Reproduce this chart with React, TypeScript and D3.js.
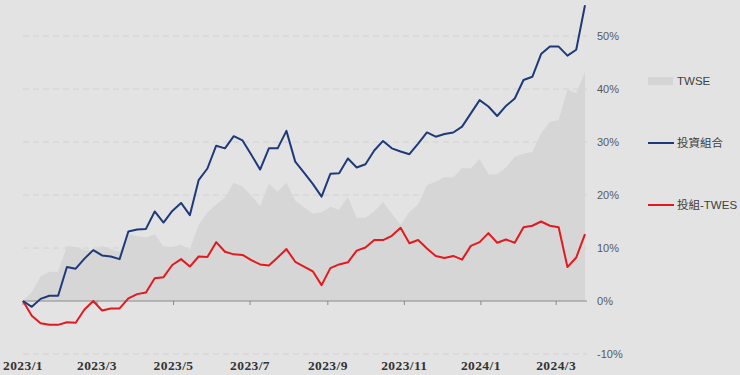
import * as d3 from "d3";

// weekly points, first one is the base week (0%)
const startDate = new Date(2023, 0, 1);
const endDate = new Date(2024, 2, 24);

// 投資組合 cumulative return (%)
const portfolio = [
  0, -1.1, 0.4, 1.0, 1.0, 6.4, 6.1, 8.0, 9.6, 8.6,
  8.4, 7.9, 13.1, 13.5, 13.6, 16.9, 14.8, 17.0, 18.5, 16.2,
  22.8, 25.0, 29.3, 28.8, 31.1, 30.3, 27.6, 24.8, 28.8, 28.8,
  32.1, 26.3, 24.2, 22.1, 19.7, 24.0, 24.1, 26.9, 25.2, 25.8,
  28.4, 30.2, 28.8, 28.2, 27.7, 29.7, 31.8, 31.0, 31.5, 31.8,
  32.9, 35.4, 37.9, 36.7, 34.9, 36.8, 38.2, 41.7, 42.3, 46.6,
  48.0, 48.0, 46.3, 47.4, 55.8,
];

// 投組-TWES excess return (%)
const excess = [
  0, -2.8, -4.2, -4.5, -4.5, -4.0, -4.1, -1.6, 0, -1.8,
  -1.4, -1.4, 0.5, 1.3, 1.6, 4.3, 4.5, 6.8, 7.9, 6.5,
  8.4, 8.3, 11.1, 9.3, 8.8, 8.7, 7.7, 6.9, 6.7, 8.2,
  9.8, 7.4, 6.5, 5.6, 3.0, 6.2, 6.9, 7.3, 9.5, 10.1,
  11.5, 11.5, 12.3, 13.8, 10.9, 11.5, 9.9, 8.5, 8.1, 8.5,
  7.8, 10.4, 11.1, 12.8, 11.0, 11.6, 11.0, 13.9, 14.2, 15.0,
  14.2, 13.9, 6.4, 8.2, 12.6,
];

// TWSE cumulative return (%)
const twse = [
  0, 1.7, 4.6, 5.5, 5.5, 10.4, 10.2, 9.6, 9.6, 10.4,
  9.8, 9.3, 12.6, 12.2, 12.0, 12.6, 10.3, 10.2, 10.6, 9.7,
  14.4, 16.7, 18.2, 19.5, 22.3, 21.6, 19.9, 17.9, 22.1, 20.6,
  22.3, 18.9, 17.7, 16.5, 16.7, 17.8, 17.2, 19.6, 15.7, 15.7,
  16.9, 18.7, 16.5, 14.4, 16.8, 18.2, 21.9, 22.5, 23.4, 23.3,
  25.1, 25.0, 26.8, 23.9, 23.9, 25.2, 27.2, 27.8, 28.1, 31.6,
  33.8, 34.1, 39.9, 39.2, 43.2,
];

const yTicks = [-10, 0, 10, 20, 30, 40, 50];
const xTickLabels = ["2023/1", "2023/3", "2023/5", "2023/7", "2023/9", "2023/11", "2024/1", "2024/3"];

const legendItems = [
  { label: "TWSE", kind: "area", color: "#d5d5d5" },
  { label: "投資組合", kind: "line", color: "#1f3a7a" },
  { label: "投組-TWES", kind: "line", color: "#e3191f" },
];

const W = 740;
const H = 375;

export default function App() {
  const dates = portfolio.map((_, i) => d3.timeDay.offset(startDate, i * 7));
  const x = d3.scaleTime().domain([startDate, endDate]).range([23, 585]);
  const y = d3.scaleLinear().domain([-10, 50]).range([354, 36]);

  const tickDates = xTickLabels.map((s) => {
    const [yy, mm] = s.split("/").map(Number);
    return new Date(yy, mm - 1, 1);
  });

  const line = d3
    .line<number>()
    .x((_, i) => x(dates[i]))
    .y((d) => y(d));

  const area = d3
    .area<number>()
    .x((_, i) => x(dates[i]))
    .y0(y(0))
    .y1((d) => y(d));

  const sans = "'Liberation Sans', 'Noto Sans CJK TC', sans-serif";

  return (
    <svg width={W} height={H} style={{ position: "absolute", left: 0, top: 0 }}>
      <rect width={W} height={H} fill="#e3e3e3" />

      {/* grid */}
      {yTicks
        .filter((t) => t !== 0)
        .map((t) => (
          <line
            key={t}
            x1={23}
            x2={587}
            y1={y(t)}
            y2={y(t)}
            stroke="#d2d2d2"
            strokeWidth={1}
            strokeDasharray="6,4"
          />
        ))}

      <path d={area(twse) ?? ""} fill="#d6d6d6" />

      {/* zero axis with ticks */}
      <line x1={23} x2={587} y1={y(0)} y2={y(0)} stroke="#8a8a8a" strokeWidth={1.2} />
      {tickDates.map((d, i) => (
        <line key={i} x1={x(d)} x2={x(d)} y1={y(0)} y2={y(0) + 4} stroke="#8a8a8a" strokeWidth={1} />
      ))}

      <path d={line(excess) ?? ""} fill="none" stroke="#e3191f" strokeWidth={2} strokeLinejoin="round" />
      <path d={line(portfolio) ?? ""} fill="none" stroke="#1f3a7a" strokeWidth={2} strokeLinejoin="round" />

      {/* y labels */}
      {yTicks.map((t) => (
        <text
          key={t}
          x={597}
          y={y(t)}
          dy="0.35em"
          fontFamily={sans}
          fontSize={11}
          fill="#595959"
        >
          {t}%
        </text>
      ))}

      {/* x labels */}
      {tickDates.map((d, i) => (
        <text
          key={i}
          x={x(d)}
          y={370}
          textAnchor="middle"
          fontFamily="'Liberation Serif', 'DejaVu Serif', serif"
          fontWeight="bold"
          fontSize={13.5}
          letterSpacing={0.4}
          fill="#333"
        >
          {xTickLabels[i]}
        </text>
      ))}

      {/* legend */}
      {legendItems.map((item, i) => {
        const ly = [81, 143, 205][i];
        return (
          <g key={item.label}>
            {item.kind === "area" ? (
              <rect x={648} y={ly - 4} width={25} height={8} fill={item.color} />
            ) : (
              <line x1={648} x2={674} y1={ly} y2={ly} stroke={item.color} strokeWidth={2} />
            )}
            <text x={677} y={ly} dy="0.35em" fontFamily={sans} fontSize={11.5} fill="#404040">
              {item.label}
            </text>
          </g>
        );
      })}
    </svg>
  );
}
